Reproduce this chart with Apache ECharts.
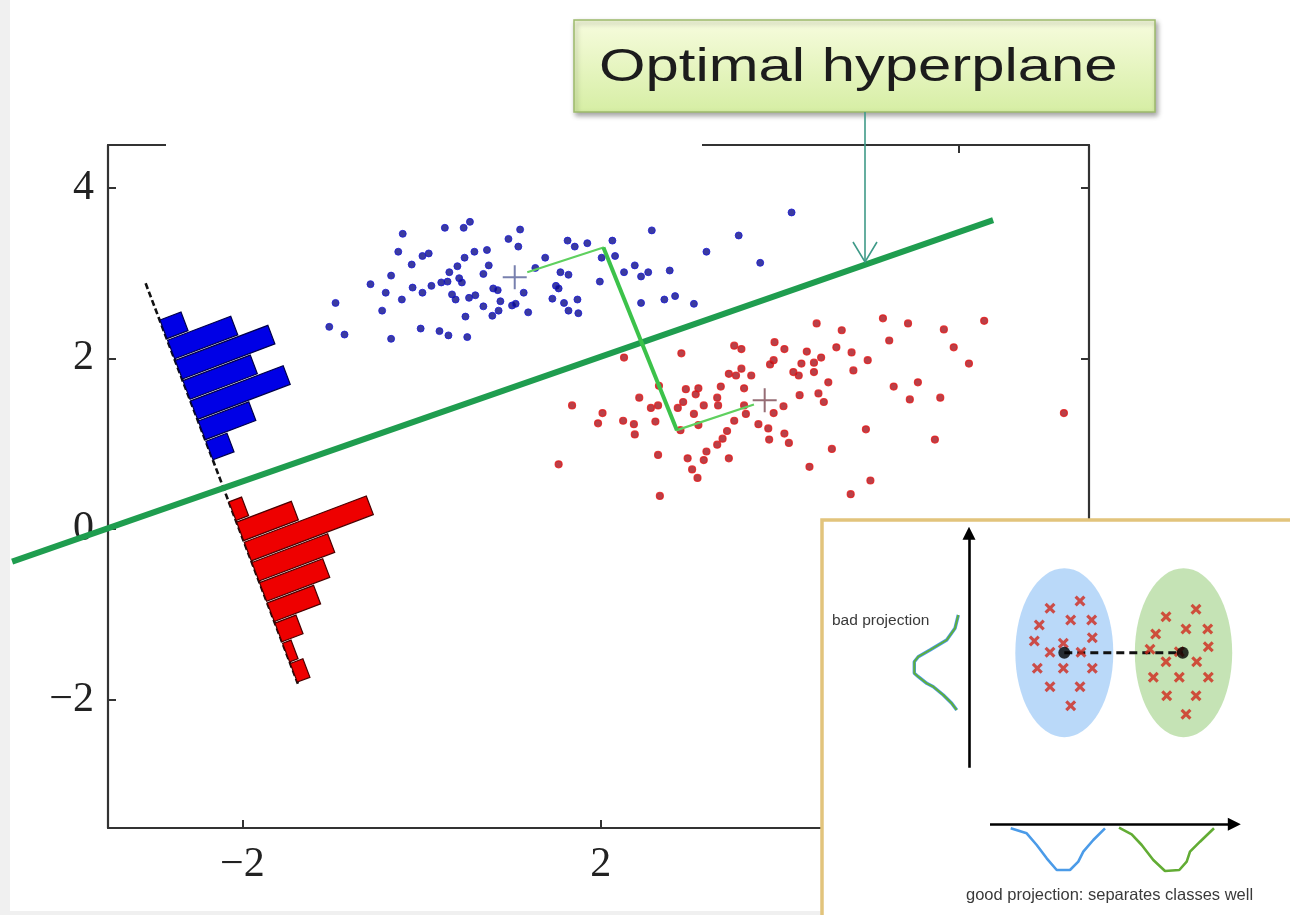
<!DOCTYPE html>
<html>
<head>
<meta charset="utf-8">
<script src="https://cdn.jsdelivr.net/npm/echarts@6.0.0/dist/echarts.min.js"></script>
<style>
  html, body { margin: 0; padding: 0; background: #ffffff; }
  #chart { width: 1290px; height: 915px; }
</style>
</head>
<body>
<div id="chart"></div>
<script>
// ---------------- data (main plot, data units) ----------------
const xTickValues = [-2, 2, 6];
const yTickValues = [-2, 0, 2, 4];

const bluePoints = [
  [-0.21,3.46],[0.26,3.53],[0.47,3.53],[0.54,3.60],[-0.26,3.25],[0.01,3.20],[0.08,3.23],[-0.11,3.10],
  [-0.34,2.97],[-0.57,2.87],[-0.40,2.77],[-0.96,2.65],[-0.22,2.69],[-0.44,2.56],[-1.03,2.37],[-0.86,2.28],
  [-0.34,2.23],[-0.01,2.35],[0.20,2.32],[0.30,2.27],[0.51,2.25],[-0.10,2.83],[0.01,2.77],[0.11,2.85],
  [0.22,2.89],[0.29,2.90],[0.31,3.01],[0.40,3.08],[0.48,3.18],[0.59,3.25],[0.73,3.27],[0.42,2.94],
  [0.45,2.89],[0.34,2.75],[0.38,2.69],[0.53,2.71],[0.60,2.74],[0.49,2.49],[0.69,2.61],[0.75,3.09],
  [0.69,2.99],[0.80,2.82],[0.85,2.80],[0.88,2.67],[0.86,2.56],[0.79,2.50],[1.01,2.62],[1.05,2.64],
  [0.97,3.40],[1.10,3.51],[1.08,3.31],[1.14,2.77],[1.19,2.54],[1.38,3.18],[1.27,3.06],[1.55,3.01],
  [1.50,2.85],[1.53,2.82],[1.46,2.70],[1.59,2.65],[1.63,3.38],[1.71,3.31],[1.85,3.35],[2.13,3.38],
  [2.57,3.50],[2.01,3.18],[2.16,3.20],[2.38,3.09],[2.26,3.01],[2.45,2.96],[2.53,3.01],[2.77,3.03],
  [1.99,2.90],[1.64,2.98],[1.74,2.69],[1.64,2.56],[1.75,2.53],[2.45,2.65],[2.71,2.69],[2.83,2.73],
  [3.04,2.64],[3.18,3.25],[3.54,3.44],[3.78,3.12],[4.13,3.71]
];

const redPoints = [
  [2.26,2.01],[2.90,2.06],[3.49,2.15],[3.57,2.11],[3.94,2.19],[4.05,2.11],[3.93,1.98],[3.89,1.93],
  [3.43,1.82],[3.57,1.88],[3.51,1.80],[3.68,1.80],[4.15,1.84],[4.21,1.80],[3.34,1.67],[3.60,1.65],
  [4.22,1.57],[2.95,1.64],[3.09,1.65],[3.06,1.58],[2.65,1.68],[2.43,1.54],[3.30,1.54],[3.15,1.45],
  [3.31,1.45],[2.92,1.49],[2.86,1.42],[2.56,1.42],[2.64,1.45],[1.68,1.45],[2.02,1.36],[1.97,1.24],
  [2.25,1.27],[2.37,1.23],[2.38,1.11],[2.61,1.26],[3.04,1.35],[3.09,1.22],[3.49,1.27],[3.60,1.45],
  [3.62,1.35],[3.76,1.23],[3.93,1.36],[4.04,1.44],[3.87,1.18],[4.05,1.12],[3.88,1.05],[4.10,1.01],
  [3.41,1.15],[3.36,1.06],[3.30,0.99],[3.18,0.91],[3.15,0.81],[3.43,0.83],[2.97,0.83],[3.02,0.70],
  [3.08,0.60],[2.64,0.87],[1.53,0.76],[2.66,0.39],[2.89,1.16],[4.41,2.41],[4.69,2.33],[5.15,2.47],
  [5.43,2.41],[5.83,2.34],[6.28,2.44],[5.22,2.21],[5.94,2.13],[6.11,1.94],[4.63,2.13],[4.80,2.07],
  [4.30,2.08],[4.46,2.01],[4.38,1.95],[4.24,1.94],[4.98,1.98],[4.82,1.86],[4.38,1.84],[4.54,1.72],
  [5.27,1.67],[5.54,1.72],[5.45,1.52],[5.79,1.54],[4.43,1.59],[4.49,1.49],[4.96,1.17],[5.73,1.05],
  [4.58,0.94],[4.33,0.73],[5.01,0.57],[4.79,0.41],[7.17,1.36]
];

const blueMean = [1.04, 2.95];
const redMean = [3.83, 1.51];

const hyperplane = [[-4.57, -0.38], [6.38, 3.62]];
const projectionPath = [[1.18, 3.01], [2.03, 3.30], [2.85, 1.16], [3.71, 1.46]];
const projectionPerp = [[2.03, 3.30], [2.85, 1.16]];

// projection axis of the histograms (start of dashed line, start of first bin, end of last bin)
const histDashStart = [-3.08, 2.88];
const histAxisStart = [-2.92, 2.45];
const histAxisEnd = [-1.38, -1.81];
const blueHist = [5, 15, 22, 16, 22, 12, 5, 0, 0, 0, 0, 0, 0, 0, 0, 0, 0, 0];
const redHist  = [0, 0, 0, 0, 0, 0, 0, 0, 0, 3, 13, 29, 18, 15, 11, 5, 2, 3];

// ---------------- data (inset diagram, its own units) ----------------
const insetEllipses = [[244.3, 137.7, 49, 84.5], [363.5, 137.7, 48.7, 84.5]];
const insetCenters = [[244.3, 137.7], [362.7, 137.7]];
const insetCrossesBlue = [
  [230,93.3],[260,86],[219.3,110],[250.7,105],[271.7,105],[214.3,126],[243.3,128.3],[272.3,122.7],
  [230,137.3],[261,137.3],[217.3,153.3],[243.3,153.3],[272.3,153.3],[230,171.7],[260,171.7],[250.7,190.7]
];
const insetCrossesGreen = [
  [346,101.7],[376,94.3],[335.7,119],[366,114],[387.7,114],[388.3,131.7],[330,134.3],[359.3,136.7],
  [346,146.7],[376.7,146.7],[333.3,162.3],[359.3,162.3],[388.3,162.3],[346.7,180.7],[376,180.7],[366,199.3]
];
const insetVerticalAxis = [[149, 252.7], [149, 18.3]];
const insetHorizontalAxis = [[170, 309.3], [414.3, 309.3]];
const badProjectionCurve = [
  [138.3,100],[135,113.3],[126.7,125],[110,135],[98.3,141.7],[94.3,146.7],[94.3,158.3],
  [98.3,161.7],[106.7,168.3],[113.3,171.7],[123.3,180],[131.7,188.3],[136.7,195]
];
const goodCurveBlue = [
  [190.7,313.3],[206.7,318.3],[216.7,330],[226.7,343.3],[236.7,355],[250,355],[258.3,346.7],
  [263.3,336.7],[273.3,325],[285,313.3]
];
const goodCurveGreen = [
  [299,312.7],[311.7,319.3],[321.7,330],[333.3,345],[345,356],[359.3,355],[366.7,346.7],
  [370,336.7],[380,326.7],[394,313.3]
];

// ---------------- styling constants ----------------
const HIST_BINS = 18;
const HIST_GAP = 0.08;
const HIST_PX_PER_COUNT = 4.5;
const FRAME = '#333333';
const PLUS_PATH = 'path://M0,11L24,11L24,13L0,13Z M11,0L13,0L13,24L11,24Z';
const CROSS_PATH = 'path://M2,0L5,3L8,0L10,2L7,5L10,8L8,10L5,7L2,10L0,8L3,5L0,2Z';

function histRender(fill, stroke) {
  return function (params, api) {
    const bin = api.value(0);
    const count = api.value(1);
    if (!count) return null;
    const a = api.coord(histAxisStart);
    const b = api.coord(histAxisEnd);
    const dx = b[0] - a[0], dy = b[1] - a[1];
    const L = Math.hypot(dx, dy);
    const nx = dy / L, ny = -dx / L;
    const t0 = bin / HIST_BINS, t1 = (bin + 1 - HIST_GAP) / HIST_BINS;
    const p0 = [a[0] + dx * t0, a[1] + dy * t0];
    const p1 = [a[0] + dx * t1, a[1] + dy * t1];
    const len = count * HIST_PX_PER_COUNT;
    return {
      type: 'polygon',
      shape: { points: [p0, p1, [p1[0] + nx * len, p1[1] + ny * len], [p0[0] + nx * len, p0[1] + ny * len]] },
      style: { fill: fill, stroke: stroke, lineWidth: 1.2 }
    };
  };
}

// unclipped straight line through the points of a named array
function lineRender(points, color, width) {
  return function (params, api) {
    return {
      type: 'polyline',
      shape: { points: points.map(p => api.coord(p)) },
      style: { stroke: color, lineWidth: width, fill: null, lineCap: 'butt', lineJoin: 'miter' }
    };
  };
}

const minusFmt = v => String(v).replace('-', '\u2212');

const axisLineStyle = { show: true, onZero: false, lineStyle: { color: FRAME, width: 2.2 } };
const tickStyle = (vals) => ({ show: true, inside: true, length: 8, lineStyle: { color: FRAME, width: 2 }, customValues: vals });
const labelFont = { fontFamily: 'Liberation Serif', fontSize: 42, color: '#222' };

const chart = echarts.init(document.getElementById('chart'), null, { renderer: 'canvas' });

const option = {
  animation: false,
  backgroundColor: '#ffffff',
  grid: [
    { left: 108, top: 145, width: 981, height: 683, containLabel: false },
    { left: 820, top: 515, width: 470, height: 400, containLabel: false }
  ],
  xAxis: [
    { type: 'value', gridIndex: 0, position: 'bottom', min: -3.5, max: 7.45,
      axisLine: axisLineStyle, axisTick: tickStyle(xTickValues), splitLine: { show: false },
      axisLabel: Object.assign({ customValues: xTickValues, formatter: minusFmt, margin: 16 }, labelFont) },
    { type: 'value', gridIndex: 0, position: 'top', min: -3.5, max: 7.45,
      axisLine: axisLineStyle, axisTick: tickStyle(xTickValues), splitLine: { show: false },
      axisLabel: { show: false } },
    { type: 'value', gridIndex: 1, min: 0, max: 470, show: false }
  ],
  yAxis: [
    { type: 'value', gridIndex: 0, position: 'left', min: -3.5, max: 4.5,
      axisLine: axisLineStyle, axisTick: tickStyle(yTickValues), splitLine: { show: false },
      axisLabel: Object.assign({ customValues: yTickValues, formatter: minusFmt, margin: 14 }, labelFont) },
    { type: 'value', gridIndex: 0, position: 'right', min: -3.5, max: 4.5,
      axisLine: axisLineStyle, axisTick: tickStyle(yTickValues), splitLine: { show: false },
      axisLabel: { show: false } },
    { type: 'value', gridIndex: 1, min: 0, max: 400, inverse: true, show: false }
  ],
  graphic: [
    // light page edges
    { type: 'rect', z: 0, shape: { x: 0, y: 0, width: 10, height: 915 }, style: { fill: '#f0f0f0' } },
    { type: 'rect', z: 0, shape: { x: 0, y: 911, width: 1290, height: 4 }, style: { fill: '#f0f0f0' } },
    // white patch hiding part of the top frame
    { type: 'rect', z: 1, shape: { x: 166, y: 136, width: 536, height: 64 }, style: { fill: '#ffffff' } },
    // inset frame
    { type: 'rect', z: 1, shape: { x: 822, y: 520, width: 480, height: 410 },
      style: { fill: '#ffffff', stroke: '#e2c47c', lineWidth: 3.5 } },
    { type: 'text', z: 5, x: 832, y: 621,
      style: { text: 'bad projection', fontFamily: 'Liberation Sans', fontSize: 15.5, fill: '#3a3a3a',
               verticalAlign: 'middle', align: 'left' } },
    { type: 'text', z: 5, x: 966, y: 895,
      style: { text: 'good projection: separates classes well', fontFamily: 'Liberation Sans', fontSize: 16.5,
               fill: '#3a3a3a', verticalAlign: 'middle', align: 'left' } },
    // callout
    { type: 'rect', z: 10, shape: { x: 574, y: 20, width: 581, height: 92 },
      style: {
        fill: { type: 'linear', x: 0, y: 0, x2: 0, y2: 1,
                colorStops: [{ offset: 0, color: '#f7fcde' }, { offset: 1, color: '#d6eea4' }] },
        stroke: '#9dbb6c', lineWidth: 1.5,
        shadowBlur: 5, shadowOffsetX: 2, shadowOffsetY: 3, shadowColor: 'rgba(0,0,0,0.35)'
      } },
    { type: 'text', z: 11, x: 599, y: 68, scaleX: 1.3,
      style: { text: 'Optimal hyperplane', fontFamily: 'Liberation Sans', fontSize: 46, fill: '#1c1c1c',
               verticalAlign: 'middle', align: 'left' } },
    { type: 'polyline', z: 10, shape: { points: [[865, 112], [865, 261]] },
      style: { stroke: '#3f9a88', lineWidth: 1.6, fill: null } },
    { type: 'polyline', z: 10, shape: { points: [[853, 242], [865, 262], [877, 242]] },
      style: { stroke: '#3f9a88', lineWidth: 1.6, fill: null } }
  ],
  series: [
    { type: 'line', xAxisIndex: 0, yAxisIndex: 0, data: [histDashStart, histAxisEnd], showSymbol: false,
      lineStyle: { color: '#111', width: 2.6, type: [6, 3] }, z: 2 },
    { type: 'custom', xAxisIndex: 0, yAxisIndex: 0, renderItem: histRender('#0000e6', '#00004a'),
      data: blueHist.map((c, i) => [i, c]), z: 3 },
    { type: 'custom', xAxisIndex: 0, yAxisIndex: 0, renderItem: histRender('#ee0000', '#4a0000'),
      data: redHist.map((c, i) => [i, c]), z: 3 },
    { type: 'scatter', xAxisIndex: 0, yAxisIndex: 0, data: bluePoints, symbolSize: 7,
      itemStyle: { color: '#0a0a88', borderColor: '#1a1ad6', borderWidth: 1 }, z: 3 },
    { type: 'scatter', xAxisIndex: 0, yAxisIndex: 0, data: redPoints, symbolSize: 7,
      itemStyle: { color: '#a8101a', borderColor: '#e41818', borderWidth: 1.2 }, z: 3 },
    { type: 'custom', xAxisIndex: 0, yAxisIndex: 0, clip: false, data: [0],
      renderItem: lineRender(hyperplane, '#1f9d4f', 6), z: 4 },
    { type: 'line', xAxisIndex: 0, yAxisIndex: 0, data: projectionPath, showSymbol: false,
      lineStyle: { color: '#5fd05f', width: 2.2 }, z: 5 },
    { type: 'line', xAxisIndex: 0, yAxisIndex: 0, data: projectionPerp, showSymbol: false,
      lineStyle: { color: '#3cc24a', width: 4 }, z: 5 },
    { type: 'scatter', xAxisIndex: 0, yAxisIndex: 0, symbol: PLUS_PATH, symbolSize: 24,
      data: [{ value: blueMean, itemStyle: { color: '#56609a' } }, { value: redMean, itemStyle: { color: '#7c4852' } }],
      z: 6 },

    // ---- inset ----
    { type: 'scatter', xAxisIndex: 2, yAxisIndex: 2, symbol: 'circle',
      symbolSize: v => [v[2] * 2, v[3] * 2],
      data: [{ value: insetEllipses[0], itemStyle: { color: '#a9d0f8' } },
             { value: insetEllipses[1], itemStyle: { color: '#b6dca2' } }], z: 6 },
    { type: 'scatter', xAxisIndex: 2, yAxisIndex: 2, symbol: CROSS_PATH, symbolSize: 11,
      data: insetCrossesBlue.concat(insetCrossesGreen), itemStyle: { color: '#d0281c' }, z: 7 },
    { type: 'line', xAxisIndex: 2, yAxisIndex: 2, data: insetCenters, showSymbol: false,
      lineStyle: { color: '#111', width: 3, type: [8, 5] }, z: 7 },
    { type: 'scatter', xAxisIndex: 2, yAxisIndex: 2, data: insetCenters, symbolSize: 12,
      itemStyle: { color: '#000' }, z: 8 },
    { type: 'lines', coordinateSystem: 'cartesian2d', xAxisIndex: 2, yAxisIndex: 2,
      symbol: ['none', 'triangle'], symbolSize: 13,
      lineStyle: { color: '#000', width: 2.6, opacity: 1, curveness: 0 },
      data: [{ coords: insetVerticalAxis }, { coords: insetHorizontalAxis }], z: 7 },
    { type: 'line', xAxisIndex: 2, yAxisIndex: 2, data: badProjectionCurve, showSymbol: false,
      lineStyle: { color: '#4b9be8', width: 3.4 }, z: 7 },
    { type: 'line', xAxisIndex: 2, yAxisIndex: 2, data: badProjectionCurve, showSymbol: false,
      lineStyle: { color: '#5fae3a', width: 2 }, z: 8 },
    { type: 'line', xAxisIndex: 2, yAxisIndex: 2, data: goodCurveBlue, showSymbol: false,
      lineStyle: { color: '#4b9be8', width: 2.6 }, z: 7 },
    { type: 'line', xAxisIndex: 2, yAxisIndex: 2, data: goodCurveGreen, showSymbol: false,
      lineStyle: { color: '#62ac34', width: 2.6 }, z: 7 }
  ]
};

chart.setOption(option);
</script>
</body>
</html>
